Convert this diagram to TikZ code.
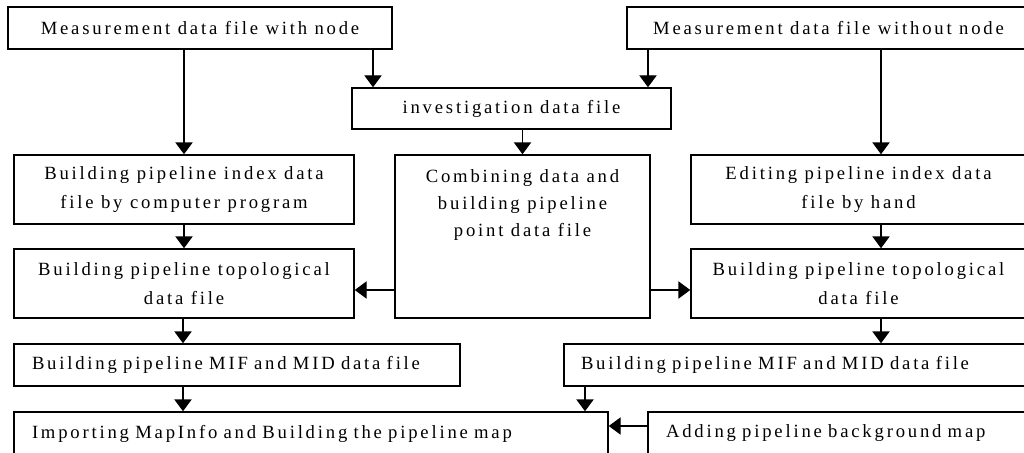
\documentclass[tikz,border=0pt]{standalone}
\usepackage{fontspec}
\setmainfont{Liberation Serif}[LetterSpace=15]
\usetikzlibrary{arrows.meta}
\tikzset{
  box/.style={draw, line width=1.1pt, rectangle, inner sep=0pt, align=center,
    font=\fontsize{14}{21.5}\selectfont},
  lbox/.style={box, align=left, inner ysep=0pt},
  arr/.style={line width=1.1pt, -{Triangle[length=9pt,width=13pt]}},
  lbl/.style={inner sep=0pt, align=center, font=\fontsize{14}{20.5}\selectfont}
}
\begin{document}
\begin{tikzpicture}[x=0.75pt,y=-0.75pt]
\useasboundingbox (0,0) rectangle (1024,453);
\clip (0,0) rectangle (1024,453);
% top row
\node[box, minimum width=288pt, minimum height=31.5pt] (A) at (200,28) {Measurement data file with node};
\node[box, minimum width=302.25pt, minimum height=31.5pt] (B) at (828.5,28) {Measurement data file without node};
\node[box, minimum width=239.25pt, minimum height=30.75pt] (Inv) at (511.5,108.5) {investigation data file};
% middle
\node[box, minimum width=255pt, minimum height=51.75pt] (Index) at (184,189.5) {Building pipeline index data\\file by computer program};
\node[box, minimum width=191.25pt, minimum height=122.25pt] (Comb) at (522.5,236.5) {};
\node[lbl] (CombT) at (522.5,205) {Combining data and\\building pipeline\\point data file};
\node[box, minimum width=251.25pt, minimum height=51.75pt] (Edit) at (858.5,189.5) {Editing pipeline index data\\file by hand};
\node[box, minimum width=255pt, minimum height=51.75pt] (TopoL) at (184,283.5) {Building pipeline topological\\data file};
\node[box, minimum width=251.25pt, minimum height=51.75pt] (TopoR) at (858.5,283.5) {Building pipeline topological\\data file};
% lower
\node[lbox, text width=307.5pt, inner xsep=13.5pt, minimum height=31.5pt] (MIFL) at (237,365) {Building pipeline MIF and MID data file};
\node[lbox, text width=324pt, inner xsep=12.75pt, minimum height=31.5pt] (MIFR) at (797,365) {Building pipeline MIF and MID data file};
\node[lbox, text width=418.5pt, inner xsep=13.5pt, minimum height=32.25pt] (Imp) at (311,433.5) {Importing MapInfo and Building the pipeline map};
\node[lbox, text width=259.5pt, inner xsep=13.5pt, minimum height=32.25pt] (Add) at (839,433.5) {Adding pipeline background map};
% connectors
\draw[arr] (373,0 |- A.south) -- (373,0 |- Inv.north);
\draw[arr] (Index.north |- A.south) -- (Index.north);
\draw[arr] (648,0 |- B.south) -- (648,0 |- Inv.north);
\draw[arr] (881,0 |- B.south) -- (881,0 |- Edit.north);
\draw[arr] (Comb.north |- Inv.south) -- (Comb.north);
\draw[arr] (Index.south) -- (TopoL.north);
\draw[arr] (881,0 |- Edit.south) -- (881,0 |- TopoR.north);
\draw[arr] (Comb.west |- 0,290) -- (TopoL.east |- 0,290);
\draw[arr] (Comb.east |- 0,290) -- (TopoR.west |- 0,290);
\draw[arr] (183,0 |- TopoL.south) -- (183,0 |- MIFL.north);
\draw[arr] (881,0 |- TopoR.south) -- (881,0 |- MIFR.north);
\draw[arr] (183,0 |- MIFL.south) -- (183,0 |- Imp.north);
\draw[arr] (585,0 |- MIFR.south) -- (585,0 |- Imp.north);
\draw[arr] (Add.west |- 0,426) -- (Imp.east |- 0,426);
\end{tikzpicture}
\end{document}
